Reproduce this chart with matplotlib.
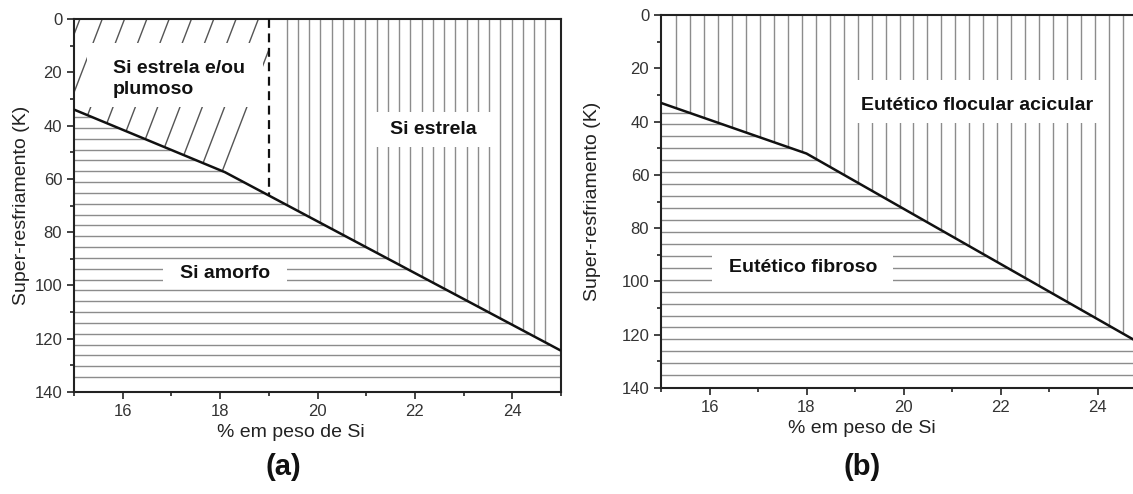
import numpy as np
import matplotlib
matplotlib.use("Agg")
import matplotlib.pyplot as plt
from matplotlib.patches import Polygon, Rectangle
from matplotlib.collections import LineCollection
from matplotlib.ticker import MultipleLocator

plt.rcParams['font.family'] = ['Liberation Sans', 'DejaVu Sans']

# transition lines (wt% Si, undercooling K)
a_x = [15.0, 18.1, 25.0]
a_y = [34.0, 57.5, 124.5]
b_x = [15.0, 18.0, 25.0]
b_y = [33.0, 52.0, 124.5]
a_split = 19.0  # dashed limit of the star/feathery zone

# region labels: text, x, y and the white box behind it (x0, x1, y0, y1)
a_labels = [
    ("Si estrela e/ou\nplumoso", 15.8, 22.5, "left", (15.27, 18.88, 9.0, 33.0)),
    ("Si estrela", 22.37, 41.4, "center", (21.18, 23.58, 35.0, 48.0)),
    ("Si amorfo", 18.1, 95.5, "center", (16.83, 19.37, 91.0, 101.0)),
]
b_labels = [
    ("Eutético flocular acicular", 21.52, 33.8, "center", (19.0, 24.0, 24.4, 40.6)),
    ("Eutético fibroso", 17.93, 94.7, "center", (16.05, 19.78, 88.3, 101.5)),
]

xticks = [16, 18, 20, 22, 24]
yticks = [0, 20, 40, 60, 80, 100, 120, 140]

hatch_col = '#8c8c8c'
ink = '#111111'

fig = plt.figure(figsize=(11.33, 4.94), dpi=100)
ax_a = fig.add_axes([74 / 1133, 1 - 392 / 494, 487 / 1133, 373 / 494])
ax_b = fig.add_axes([661 / 1133, 1 - 388 / 494, 485 / 1133, 373 / 494])


def style_axes(ax, label_x, label_y_x):
    ax.set_xlim(15, 25)
    ax.set_ylim(140, 0)
    ax.set_xticks(xticks)
    ax.set_yticks(yticks)
    ax.xaxis.set_minor_locator(MultipleLocator(1))
    ax.yaxis.set_minor_locator(MultipleLocator(10))
    ax.tick_params(which='major', direction='out', length=5, width=1.2,
                   labelsize=12, colors='#222222', labelcolor='#333333')
    ax.tick_params(which='minor', direction='out', length=3, width=1.2,
                   colors='#222222')
    for sp in ax.spines.values():
        sp.set_linewidth(1.5)
        sp.set_color('#222222')
    ax.set_xlabel('% em peso de Si', fontsize=14, color='#222222')
    ax.set_ylabel('Super-resfriamento (K)', fontsize=14, color='#222222')
    ax.xaxis.set_label_coords(label_x, -0.085)
    ax.yaxis.set_label_coords(label_y_x, 0.5)


def horizontal_hatch(ax, bx, by, y0, y1, n):
    for y in np.linspace(y0, y1, n):
        x_end = min(np.interp(y, by, bx), 25)
        ax.hlines(y, 15, x_end, color=hatch_col, lw=1.0, zorder=1)


def vertical_hatch(ax, bx, by, x0, step, x_stop):
    xs = np.arange(x0, x_stop, step)
    ax.vlines(xs, 0, np.interp(xs, bx, by), color=hatch_col, lw=1.0, zorder=1)


def put_labels(ax, labels):
    for text, x, y, ha, (bx0, bx1, by0, by1) in labels:
        ax.add_patch(Rectangle((bx0, by0), bx1 - bx0, by1 - by0,
                               facecolor='white', edgecolor='none', zorder=2))
        ax.text(x, y, text, ha=ha, va='center', fontsize=14, fontweight='bold',
                color=ink, linespacing=1.25, zorder=4)


# ---- (a)
style_axes(ax_a, 0.446, -0.09)
horizontal_hatch(ax_a, a_x, a_y, 36.8, 134.4, 25)
vertical_hatch(ax_a, a_x, a_y, 19.367, 0.231, 24.8)

# slanted hatch in the star/feathery zone, clipped to it
y_split = np.interp(a_split, a_x, a_y)
zone = Polygon([(15, 0), (a_split, 0), (a_split, y_split), (a_x[1], a_y[1]),
                (a_x[0], a_y[0])], closed=True, facecolor='none',
               edgecolor='none', transform=ax_a.transData)
ax_a.add_patch(zone)
slope = 47.6
tops = np.arange(15.29 - 2.0, 19.6, 0.458)
segs = [[(t, 0), (t - 140 / slope, 140)] for t in tops]
diag = LineCollection(segs, colors='#555555', linewidths=1.0, zorder=1)
ax_a.add_collection(diag)
diag.set_clip_path(zone)

ax_a.vlines(a_split, 0, y_split, colors=ink, linestyles=(0, (4, 2.5)),
            lw=1.6, zorder=3)
ax_a.plot(a_x, a_y, color=ink, lw=1.8, zorder=3, solid_capstyle='butt')
put_labels(ax_a, a_labels)

# ---- (b)
style_axes(ax_b, 0.414, -0.124)
horizontal_hatch(ax_b, b_x, b_y, 36.6, 135.2, 23)
vertical_hatch(ax_b, b_x, b_y, 15.31, 0.288, 25.0)
ax_b.plot(b_x, b_y, color=ink, lw=1.8, zorder=3, solid_capstyle='butt')
put_labels(ax_b, b_labels)

fig.text(283 / 1133, 1 - 467 / 494, '(a)', ha='center', va='center',
         fontsize=21, fontweight='bold', color=ink)
fig.text(862 / 1133, 1 - 467 / 494, '(b)', ha='center', va='center',
         fontsize=21, fontweight='bold', color=ink)

fig.savefig('out.png', dpi=100)
